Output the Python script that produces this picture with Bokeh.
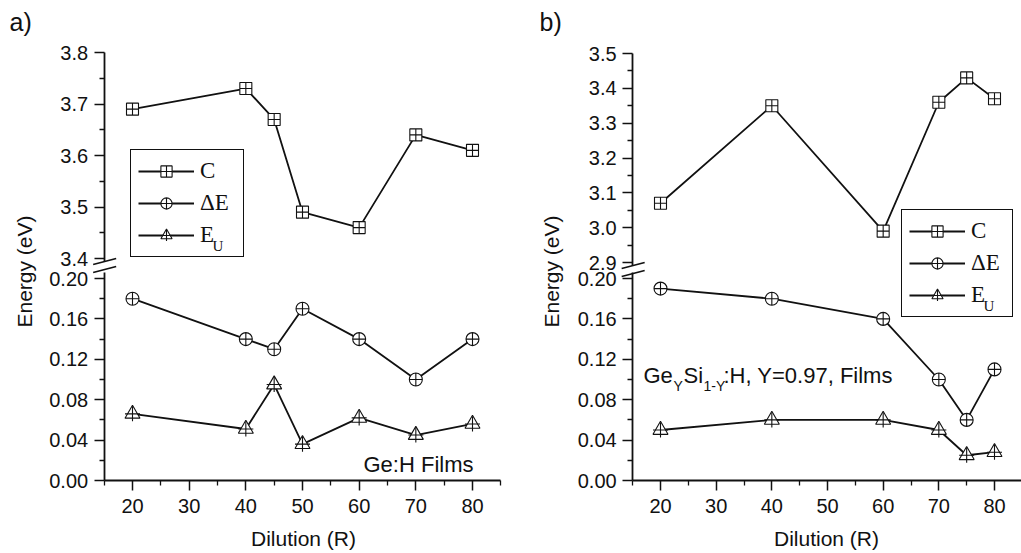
from bokeh.plotting import figure
from bokeh.models import (Range1d, LinearAxis, FixedTicker, Label, Legend,
                          LegendItem, PrintfTickFormatter)
from bokeh.layouts import row
from bokeh.embed import file_html
from bokeh.resources import INLINE

# ---------------- data ----------------
dil_a = [20, 40, 45, 50, 60, 70, 80]
c_a = [3.69, 3.73, 3.67, 3.49, 3.46, 3.64, 3.61]
de_a = [0.18, 0.14, 0.13, 0.17, 0.14, 0.10, 0.14]
eu_a = [0.066, 0.051, 0.095, 0.036, 0.062, 0.045, 0.056]

dil_b = [20, 40, 60, 70, 75, 80]
c_b = [3.07, 3.35, 2.99, 3.36, 3.43, 3.37]
de_b = [0.19, 0.18, 0.16, 0.10, 0.06, 0.11]
eu_b = [0.050, 0.060, 0.060, 0.050, 0.025, 0.028]

x_major = [20, 30, 40, 50, 60, 70, 80]
x_minor = [15, 25, 35, 45, 55, 65, 75, 85]
low_major = [0.00, 0.04, 0.08, 0.12, 0.16, 0.20]
low_minor = [0.02, 0.06, 0.10, 0.14, 0.18]
up_a_major = [3.4, 3.5, 3.6, 3.7, 3.8]
up_a_minor = [3.45, 3.55, 3.65, 3.75]
up_b_major = [2.9, 3.0, 3.1, 3.2, 3.3, 3.4, 3.5]
up_b_minor = [2.95, 3.05, 3.15, 3.25, 3.35, 3.45]

FIG_TOP = 0
FIG_H = 553
FIG_BOT = FIG_TOP + FIG_H
INK = "#111111"
SANS = "Liberation Sans"
SERIF = "Liberation Serif"


def make_panel(tag, fig_left, fig_w, px20, px80, py0, py20, up_major, up_minor,
               py_up_lo, py_up_hi, dil, c, de, eu, legend_box, note_parts,
               xlab_cx, ylab_cx, tag_x):
    sx = (px80 - px20) / 60.0
    x0 = 20 - (px20 - fig_left) / sx
    x1 = 20 + (fig_left + fig_w - px20) / sx
    sy = (py0 - py20) / 0.20
    y0 = -(FIG_BOT - py0) / sy
    y1 = (py0 - FIG_TOP) / sy
    lo, hi = up_major[0], up_major[-1]
    su = (py_up_lo - py_up_hi) / (hi - lo)
    u0 = lo - (FIG_BOT - py_up_lo) / su
    u1 = hi + (py_up_hi - FIG_TOP) / su

    def X(px):
        return 20 + (px - px20) / sx

    def Y(py):
        return (py0 - py) / sy

    p = figure(width=fig_w, height=FIG_H, x_range=Range1d(x0, x1),
               y_range=Range1d(y0, y1), x_axis_location=None,
               y_axis_location=None, toolbar_location=None,
               output_backend="svg", min_border=0, outline_line_color=None,
               background_fill_color="white", border_fill_color="white")
    p.extra_y_ranges = {"up": Range1d(u0, u1)}
    p.grid.visible = False
    p.xgrid.grid_line_color = None
    p.ygrid.grid_line_color = None

    def style(ax, fmt):
        ax.axis_line_width = 1.8
        ax.axis_line_color = INK
        ax.major_tick_line_width = 1.5
        ax.minor_tick_line_width = 1.3
        ax.major_tick_line_color = INK
        ax.minor_tick_line_color = INK
        ax.major_tick_in = 0
        ax.major_tick_out = 10
        ax.minor_tick_in = 0
        ax.minor_tick_out = 5
        ax.major_label_text_font = SANS
        ax.major_label_text_font_size = "20px"
        ax.major_label_text_color = INK
        ax.major_label_standoff = 6
        ax.formatter = PrintfTickFormatter(format=fmt)

    xa = LinearAxis(fixed_location=0, bounds=(15, 85),
                    ticker=FixedTicker(ticks=x_major, minor_ticks=x_minor))
    style(xa, "%d")
    xa.major_label_standoff = 8
    p.add_layout(xa, "below")

    ya = LinearAxis(fixed_location=15, bounds=(0, Y(py20 - 6)),
                    ticker=FixedTicker(ticks=low_major, minor_ticks=low_minor))
    style(ya, "%.2f")
    p.add_layout(ya, "left")

    yu_bottom = lo - 3 / su
    yu = LinearAxis(fixed_location=15, y_range_name="up", bounds=(yu_bottom, hi),
                    ticker=FixedTicker(ticks=up_major, minor_ticks=up_minor))
    style(yu, "%.1f")
    p.add_layout(yu, "left")

    # axis break marks
    ax_px = px20 - 5 * sx
    for yc in (py_up_lo + 3, py_up_lo + 11):
        p.segment(x0=[X(ax_px - 11)], y0=[Y(yc + 3)], x1=[X(ax_px + 12)],
                  y1=[Y(yc - 3)], line_color=INK, line_width=1.6)

    # data
    lw = 1.8
    lc = p.line(dil, c, y_range_name="up", line_color=INK, line_width=lw)
    sc = p.scatter(dil, c, y_range_name="up", marker="square_cross", size=12,
                   fill_color="white", line_color=INK, line_width=1.1)
    ld = p.line(dil, de, line_color=INK, line_width=lw)
    sd = p.scatter(dil, de, marker="circle_cross", size=13,
                   fill_color="white", line_color=INK, line_width=1.1)
    le = p.line(dil, eu, line_color=INK, line_width=lw)
    se = p.scatter(dil, eu, marker="triangle", size=15,
                   fill_color="white", line_color=INK, line_width=1.1)
    se2 = p.scatter(dil, eu, marker="cross", size=15,
                    line_color=INK, line_width=1.1)

    bl, bt, br, bb = legend_box
    pad = 7
    leg = Legend(items=[LegendItem(label="C", renderers=[lc, sc]),
                        LegendItem(label="ΔE", renderers=[ld, sd]),
                        LegendItem(label="E", renderers=[le, se, se2])],
                 location=(bl - fig_left, FIG_BOT - bb))
    leg.border_line_color = INK
    leg.border_line_alpha = 1.0
    leg.border_line_width = 1.3
    leg.background_fill_alpha = 0.0
    leg.label_text_font = SERIF
    leg.label_text_font_size = "23px"
    leg.label_text_color = INK
    leg.glyph_width = 56
    leg.glyph_height = 28
    leg.label_height = 28
    leg.spacing = 4
    leg.padding = pad
    leg.margin = 0
    leg.label_standoff = 6
    leg.label_width = br - bl - 2 * pad - 56 - 6
    p.add_layout(leg)
    p.add_layout(Label(x=X(bl + 82), y=Y(bb - 12), text="U", text_font=SERIF,
                       text_font_size="15px", text_color=INK,
                       text_baseline="middle", level="overlay"))

    # panel note
    for (txt, dx, dy, fs) in note_parts["parts"]:
        p.add_layout(Label(x=X(note_parts["x"] + dx), y=Y(note_parts["y"] + dy),
                           text=txt, text_font=SANS, text_font_size=fs,
                           text_color=INK, text_baseline="middle",
                           text_align=note_parts.get("align", "left")))

    # axis titles
    p.add_layout(Label(x=X(xlab_cx), y=Y(538), text="Dilution (R)",
                       text_font=SANS, text_font_size="21px", text_color=INK,
                       text_align="center", text_baseline="middle"))
    p.add_layout(Label(x=X(ylab_cx), y=Y(271), text="Energy (eV)", angle=1.5707963,
                       text_font=SANS, text_font_size="21px", text_color=INK,
                       text_align="center", text_baseline="middle"))
    p.add_layout(Label(x=X(tag_x), y=Y(21), text=tag, text_font=SANS,
                       text_font_size="25px", text_color=INK,
                       text_baseline="middle"))
    return p


pa = make_panel("a)", 0, 510, 132, 472, 480, 278, up_a_major, up_a_minor, 258, 52,
                dil_a, c_a, de_a, eu_a, (130, 149, 242, 257),
                {"x": 473, "y": 464, "align": "right",
                 "parts": [("Ge:H Films", 0, 0, "22px")]},
                303, 24, 9)
pb = make_panel("b)", 510, 511, 660, 994, 480, 278, up_b_major, up_b_minor, 262, 53,
                dil_b, c_b, de_b, eu_b, (901, 209, 1011, 317),
                {"x": 643, "y": 375,
                 "parts": [("Ge", 0, 0, "22px"), ("Y", 30, 10, "14px"),
                           ("Si", 40, 0, "22px"), ("1-Y", 60, 10, "14px"),
                           (":H, Y=0.97, Films", 80, 0, "22px")]},
                826, 551, 539)

layout = row(pa, pb, spacing=0)
open("out.html", "w").write(file_html(layout, INLINE))
